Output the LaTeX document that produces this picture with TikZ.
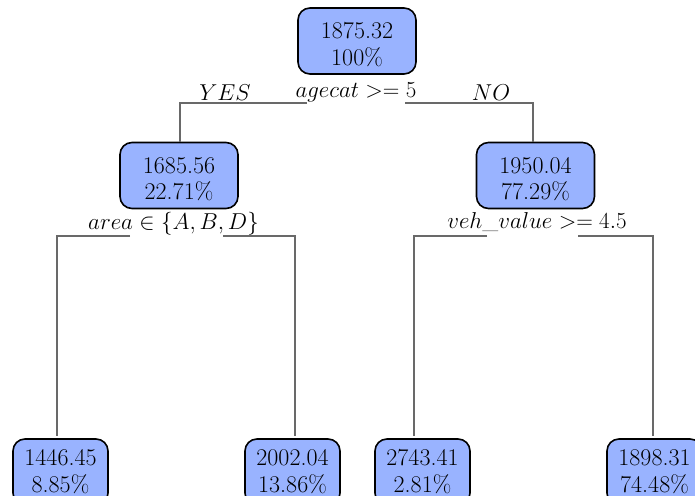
\RequirePackage{fix-cm}
\documentclass[tikz,border=0pt]{standalone}
\usepackage{fontspec}
\definecolor{nodefill}{RGB}{153,179,255}
\definecolor{edgegray}{RGB}{105,105,105}
\begin{document}
\begin{tikzpicture}[x=1pt,y=-1pt,
  every node/.style={font=\fontsize{23}{26}\selectfont},
  treebox/.style={draw=black, line width=1.6pt, fill=nodefill, rounded corners=12pt, align=center, inner sep=0pt, font=\fontsize{24}{26.5}\selectfont},
  bigbox/.style={treebox, minimum width=118pt, minimum height=66pt, text height=49pt, text depth=1pt},
  smallbox/.style={treebox, minimum width=95pt, minimum height=66pt, text height=41pt, text depth=1pt},
  edge/.style={draw=edgegray, line width=1.5pt},
  lab/.style={anchor=base, inner sep=0pt}]
\path[use as bounding box, clip] (0,0) rectangle (695,495);

\node[bigbox] (n1) at (357,41) {1875.32\\100\%};
\node[bigbox] (n2) at (179,175.5) {1685.56\\22.71\%};
\node[bigbox] (n3) at (535.5,175.5) {1950.04\\77.29\%};
\node[smallbox] (n4) at (60.5,472) {1446.45\\8.85\%};
\node[smallbox] (n5) at (292.5,472) {2002.04\\13.86\%};
\node[smallbox] (n6) at (422.5,472) {2743.41\\2.81\%};
\node[smallbox] (n7) at (654.5,472) {1898.31\\74.48\%};

\node[lab] (s1) at (356,97) {$agecat >= 5$};
\node[lab] (yes) at (225,100) {$YES$};
\node[lab] (no) at (491,100) {$NO$};
\node[lab] (s2) at (173.5,229) {$area \in \{A, B, D\}$};
\node[lab] (s3) at (537,228) {$veh\_value >= 4.5$};

\coordinate (s1l) at (307,103);
\coordinate (s1r) at (405,103);
\coordinate (s2l) at (130,236);
\coordinate (s2r) at (223,236);
\coordinate (s3l) at (487,236);
\coordinate (s3r) at (578,236);

\draw[edge] (s1l) -| ([xshift=1pt]n2.north);
\draw[edge] (s1r) -| ([xshift=-2.5pt]n3.north);
\draw[edge] (s2l) -| ([xshift=-3.5pt,yshift=2pt]n4.north);
\draw[edge] (s2r) -| ([xshift=2.5pt,yshift=2pt]n5.north);
\draw[edge] (s3l) -| ([xshift=-8.5pt,yshift=2pt]n6.north);
\draw[edge] (s3r) -| ([xshift=-1.5pt,yshift=2pt]n7.north);
\end{tikzpicture}
\end{document}
